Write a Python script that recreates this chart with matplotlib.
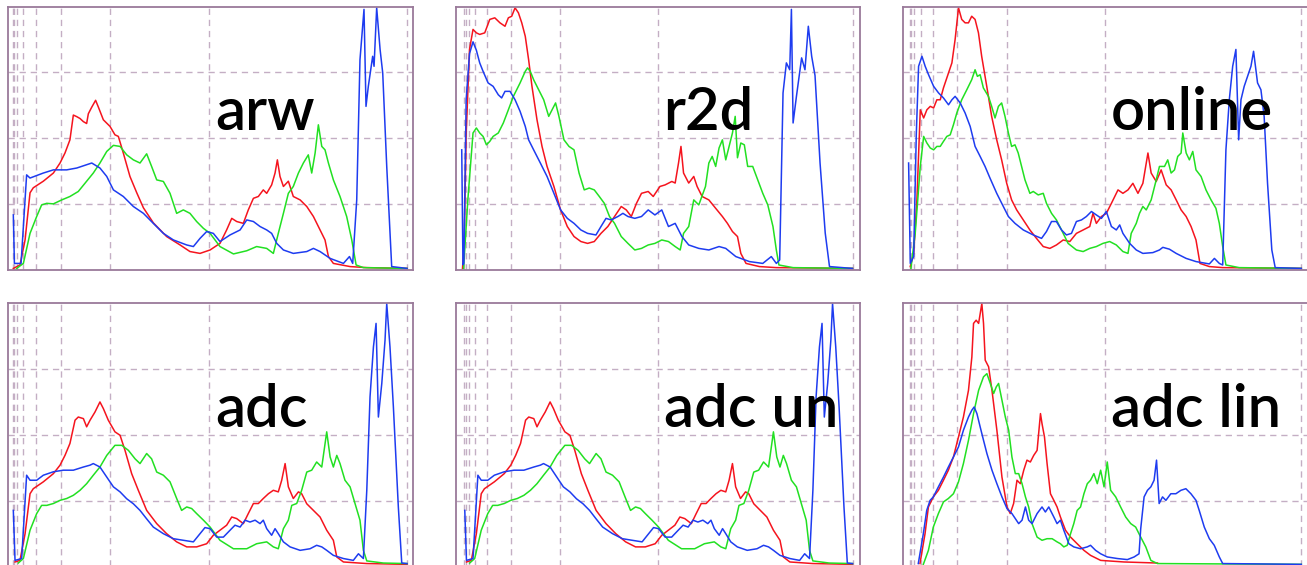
import matplotlib
matplotlib.use("Agg")
import matplotlib.pyplot as plt

# ---------------- data (x: level 0..256, y: % of panel height) ----------------
titles = ["arw", "r2d", "online", "adc", "adc un", "adc lin"]

arw_red_x = [1.5, 5.8, 9.1, 12.3, 14.4, 20.9, 27.4, 31.7, 34.9, 38.1, 40.3, 42.5, 44.6, 46.8, 48.9, 50.0, 52.2, 54.7, 56.5, 59.7, 64.0, 67.2, 69.4, 72.6, 76.9, 81.3, 85.6, 92.0, 100.6, 109.3, 115.7, 122.2, 128.7, 135.1, 139.4, 142.7, 145.9, 150.2, 153.4, 156.7, 159.9, 163.1, 165.3, 168.5, 170.7, 172.2, 173.9, 176.1, 179.3, 182.5, 186.9, 191.2, 195.5, 199.8, 203.0, 205.2, 208.4, 219.2, 230, 256]
arw_red_y = [0.6, 1.9, 11.4, 29.3, 31.2, 33.7, 36.8, 40.6, 44.4, 49.4, 58.8, 58.2, 57.5, 56.3, 55.6, 59.3, 61.8, 64.4, 61.8, 57.0, 54.5, 51.3, 50.7, 44.4, 35.5, 29.3, 23.6, 17.9, 12.7, 9.5, 7.0, 6.3, 7.6, 10.1, 15.2, 19.6, 18.4, 17.7, 22.8, 27.2, 27.9, 30.4, 29.1, 32.3, 36.8, 41.8, 35.5, 31.7, 33.7, 27.9, 26.6, 24.1, 20.3, 15.2, 11.4, 5.1, 2.5, 1.3, 0.9, 0.6]
arw_green_x = [3.7, 8.0, 12.3, 16.6, 19.8, 23.1, 27.4, 32.8, 38.1, 43.5, 47.8, 53.2, 57.5, 61.9, 66.2, 70.5, 74.8, 79.1, 83.4, 87.7, 90.9, 94.2, 98.5, 102.8, 107.1, 111.4, 115.7, 120.0, 124.4, 128.7, 135.1, 143.8, 152.4, 158.8, 165.3, 169.6, 172.8, 176.1, 179.3, 182.5, 185.8, 189.0, 192.2, 194.4, 196.6, 198.7, 200.9, 203.0, 205.2, 208.4, 212.7, 217.0, 220.3, 223.1, 227.8, 256]
arw_green_y = [0.6, 2.5, 13.9, 20.3, 24.7, 25.3, 25.1, 26.6, 27.9, 29.8, 32.9, 36.8, 40.6, 45.0, 47.3, 46.9, 43.7, 41.8, 40.6, 44.1, 39.3, 34.2, 33.6, 29.1, 21.5, 22.8, 21.5, 18.4, 15.8, 13.9, 8.9, 6.1, 7.3, 8.9, 8.2, 6.3, 13.9, 21.5, 29.1, 31.7, 36.8, 40.6, 43.7, 36.8, 44.4, 55.1, 46.9, 45.6, 40.6, 34.2, 27.9, 20.3, 11.4, 1.9, 0.9, 0.6]
arw_blue_x = [1.5, 2.2, 6.5, 10.1, 12.3, 20.9, 27.4, 36.0, 42.5, 52.2, 57.5, 61.9, 66.2, 72.6, 79.1, 85.6, 92.0, 98.5, 105.0, 113.6, 117.9, 122.2, 126.5, 130.8, 135.1, 141.6, 148.1, 152.4, 156.7, 161.0, 165.3, 168.5, 171.8, 176.1, 182.5, 191.2, 195.5, 199.8, 206.3, 214.9, 218.8, 220.9, 223.5, 225.6, 228.2, 229.5, 231.0, 233.8, 234.7, 236.4, 238.6, 240.3, 242.9, 246.1, 256]
arw_blue_y = [20.9, 2.5, 2.5, 36.1, 34.9, 36.8, 38.0, 38.0, 38.7, 40.6, 38.7, 35.5, 30.4, 27.9, 24.1, 21.5, 17.7, 13.9, 11.4, 9.5, 8.9, 12.0, 14.6, 13.9, 10.8, 13.3, 15.2, 19.0, 18.4, 16.5, 15.2, 13.9, 10.1, 7.6, 6.3, 7.0, 8.2, 7.0, 4.4, 2.5, 5.1, 2.5, 26.6, 79.8, 98.9, 62.1, 69.7, 81.1, 77.3, 99.5, 83.7, 74.8, 39.3, 1.3, 0.6]

r2d_red_x = [0, 1.1, 2.4, 4.6, 6.9, 9.1, 11.3, 14.6, 17.9, 21.2, 24.6, 27.9, 30.1, 32.3, 34.5, 36.7, 38.9, 41.2, 43.4, 45.6, 48.9, 52.2, 55.5, 60.0, 64.4, 68.8, 73.2, 77.7, 82.1, 86.5, 90.9, 95.4, 99.8, 104.2, 107.5, 110.8, 114.2, 117.5, 121.9, 125.2, 129.6, 133.0, 137.4, 139.6, 141.8, 143.4, 145.1, 148.5, 151.8, 154.0, 157.3, 161.7, 166.2, 170.6, 173.9, 177.2, 180.5, 182.7, 186.1, 194.9, 206, 256]
r2d_red_y = [0.6, 10.0, 51.3, 83.7, 91.3, 90.0, 89.4, 90.0, 95.1, 95.7, 93.8, 92.5, 95.7, 96.3, 99.5, 97.6, 93.8, 88.7, 79.8, 69.7, 57.0, 46.9, 39.3, 31.7, 22.8, 16.5, 12.7, 10.8, 10.1, 10.8, 13.9, 16.5, 20.3, 24.1, 22.8, 20.3, 25.3, 29.1, 29.8, 27.9, 31.7, 32.3, 33.6, 33.0, 40.6, 46.9, 36.8, 33.0, 35.5, 31.7, 27.9, 26.6, 23.4, 20.3, 17.7, 14.6, 12.7, 6.3, 2.5, 1.3, 0.9, 0.6]
r2d_green_x = [0.7, 3.5, 6.9, 9.1, 11.3, 13.5, 15.7, 17.9, 20.1, 23.5, 26.8, 30.1, 33.4, 37.8, 41.2, 42.7, 44.5, 46.7, 50.0, 53.3, 56.6, 58.8, 61.1, 63.3, 66.6, 69.9, 73.2, 76.5, 79.9, 83.2, 86.5, 89.8, 93.1, 96.5, 99.8, 104.2, 108.6, 113.1, 117.5, 121.9, 126.3, 130.8, 135.2, 139.6, 142.9, 145.1, 148.5, 151.8, 155.1, 159.5, 161.7, 163.9, 166.2, 168.4, 170.6, 172.8, 175.0, 177.2, 179.0, 180.5, 182.7, 185.0, 187.2, 190.5, 193.8, 197.1, 200.4, 203.8, 206.0, 207.7, 217.0, 256]
r2d_green_y = [0.6, 26.6, 52.0, 53.9, 52.0, 50.7, 47.5, 48.8, 50.7, 52.0, 55.8, 60.8, 65.9, 71.0, 75.4, 76.7, 75.4, 72.2, 68.4, 64.6, 58.3, 60.8, 63.4, 58.3, 49.4, 46.9, 45.6, 36.8, 30.4, 31.1, 30.4, 27.9, 25.3, 20.3, 17.7, 12.7, 10.1, 7.6, 8.2, 9.5, 10.1, 11.4, 10.8, 8.9, 7.6, 13.9, 16.5, 26.6, 24.7, 31.7, 40.6, 43.1, 39.3, 46.3, 49.4, 41.8, 46.9, 52.0, 58.3, 42.6, 48.2, 47.5, 39.3, 39.3, 34.2, 29.1, 24.7, 16.5, 7.6, 1.9, 0.9, 0.6]
r2d_blue_x = [-0.5, 0.3, 0.9, 2.4, 4.6, 6.9, 9.1, 11.3, 13.5, 16.8, 20.1, 23.5, 25.7, 27.9, 31.2, 34.5, 37.8, 41.2, 43.4, 46.7, 51.1, 55.5, 60.0, 64.4, 68.8, 73.2, 77.7, 82.1, 87.6, 90.9, 94.2, 97.6, 102.0, 105.3, 108.6, 113.1, 117.5, 121.9, 126.3, 130.8, 135.2, 139.6, 144.0, 148.5, 155.1, 161.7, 168.4, 172.8, 179.4, 188.3, 197.1, 202.7, 206.0, 208.2, 210.4, 212.6, 214.8, 215.9, 217.0, 219.2, 222.6, 224.8, 227.0, 229.2, 231.4, 234.7, 238.1, 240.9, 256]
r2d_blue_y = [45.6, 2.0, 2.5, 64.6, 82.1, 86.6, 83.4, 78.6, 75.4, 71.0, 69.7, 66.5, 65.3, 67.8, 67.8, 64.6, 60.2, 54.5, 49.4, 45.6, 40.6, 35.5, 29.1, 22.8, 19.6, 17.7, 15.2, 13.9, 13.3, 16.5, 19.6, 19.0, 20.3, 21.5, 20.3, 19.6, 20.3, 22.8, 20.9, 22.8, 16.5, 17.7, 12.7, 9.5, 8.2, 7.6, 8.9, 8.2, 5.1, 3.2, 2.5, 5.1, 2.5, 3.8, 67.2, 78.6, 76.0, 98.9, 55.8, 65.9, 80.5, 76.0, 92.5, 81.1, 73.8, 40.6, 14.0, 1.3, 0.6]

online_red_x = [1.3, 3.5, 5.6, 7.8, 10.0, 12.1, 14.3, 16.5, 18.6, 20.8, 22.9, 26.2, 28.4, 30.5, 32.7, 34.8, 37.0, 39.2, 41.3, 43.5, 45.7, 47.8, 51.1, 54.3, 57.6, 60.8, 64.1, 67.3, 70.6, 74.9, 79.2, 83.5, 87.9, 92.2, 96.5, 100.9, 105.2, 109.5, 113.9, 118.2, 120.3, 122.5, 125.8, 129.0, 132.3, 136.6, 139.8, 143.1, 146.3, 149.6, 152.8, 156.1, 158.2, 161.5, 164.7, 168.0, 171.2, 174.5, 177.7, 181.0, 184.2, 187.4, 190.0, 196.1, 204.8, 256]
online_red_y = [1.3, 6.3, 26.6, 60.8, 57.7, 60.8, 62.1, 61.5, 64.6, 64.6, 69.1, 74.8, 78.6, 87.5, 99.5, 95.1, 93.8, 93.8, 96.3, 95.1, 90.0, 81.1, 69.7, 58.3, 49.4, 41.8, 32.9, 26.6, 22.8, 19.0, 15.2, 12.0, 8.9, 8.2, 9.5, 11.4, 10.8, 13.9, 15.2, 16.5, 21.5, 17.7, 20.3, 21.5, 25.3, 30.4, 29.1, 30.4, 32.9, 29.1, 32.9, 44.4, 36.8, 33.6, 38.0, 32.3, 30.4, 26.6, 22.8, 20.3, 16.5, 11.4, 2.5, 1.3, 0.9, 0.6]
online_green_x = [1.7, 4.5, 7.8, 10.0, 12.1, 14.3, 16.5, 18.6, 20.8, 22.9, 25.1, 27.3, 29.4, 31.6, 34.8, 38.1, 41.3, 43.5, 45.0, 46.8, 48.9, 52.2, 54.3, 56.5, 58.7, 60.8, 63.0, 65.2, 67.3, 69.5, 71.6, 73.8, 76.0, 79.2, 81.4, 84.6, 87.9, 90.0, 93.3, 96.5, 99.8, 104.1, 109.5, 113.9, 118.2, 122.5, 126.8, 131.2, 135.5, 139.8, 143.1, 145.2, 148.5, 150.6, 152.8, 155.0, 158.2, 161.5, 163.6, 166.9, 169.0, 171.2, 173.4, 175.5, 177.7, 178.8, 181.0, 183.1, 185.3, 187.4, 190.7, 193.9, 197.2, 200.4, 202.6, 204.8, 206.9, 215.6, 256]
online_green_y = [0.6, 13.9, 39.3, 50.7, 48.2, 46.3, 45.6, 46.9, 46.9, 48.8, 50.7, 51.3, 55.1, 59.6, 64.6, 68.4, 72.2, 76.0, 73.5, 74.1, 69.1, 65.9, 62.1, 57.7, 62.1, 63.4, 58.3, 52.0, 46.9, 47.5, 44.4, 39.3, 34.2, 29.1, 29.8, 28.5, 29.1, 25.3, 21.5, 19.0, 15.2, 10.1, 7.6, 7.0, 8.2, 8.9, 10.1, 10.8, 9.5, 7.0, 6.3, 13.9, 17.7, 21.5, 24.1, 22.8, 26.6, 34.2, 39.3, 39.3, 41.8, 36.8, 38.0, 43.1, 44.4, 52.0, 44.4, 41.8, 45.0, 38.0, 35.5, 30.4, 26.6, 23.4, 17.7, 8.9, 1.9, 0.9, 0.6]
online_blue_x = [0.2, 1.3, 3.5, 5.2, 6.7, 8.9, 11.0, 13.2, 16.5, 19.7, 22.9, 26.2, 28.4, 30.5, 33.8, 37.0, 40.3, 43.5, 46.8, 50.0, 53.2, 57.6, 61.9, 65.2, 69.5, 74.9, 81.4, 86.8, 90.0, 93.3, 96.5, 99.8, 103.0, 106.3, 109.5, 112.8, 116.0, 119.3, 122.5, 125.8, 129.0, 132.3, 135.5, 137.7, 139.8, 144.2, 148.5, 152.8, 159.3, 163.6, 165.8, 170.1, 174.5, 181.0, 187.4, 196.1, 199.4, 202.6, 204.8, 206.9, 209.1, 211.3, 213.4, 215.2, 216.7, 218.8, 221.0, 223.2, 224.9, 227.5, 229.7, 231.8, 234.0, 236.8, 239.0, 256]
online_blue_y = [40.6, 2.5, 5.1, 51.3, 77.3, 81.1, 77.3, 74.1, 69.7, 67.2, 65.3, 62.7, 64.6, 65.9, 63.4, 59.6, 54.5, 46.9, 43.1, 39.3, 34.9, 29.1, 24.1, 20.3, 17.7, 15.2, 13.3, 12.0, 14.6, 18.4, 18.4, 15.2, 13.3, 13.9, 18.4, 19.0, 20.3, 22.2, 20.9, 19.6, 22.2, 16.5, 15.2, 17.1, 13.9, 10.1, 7.6, 6.3, 6.6, 7.6, 8.6, 7.9, 6.3, 4.4, 3.2, 2.3, 4.4, 2.5, 1.9, 45.6, 64.6, 77.3, 83.7, 49.4, 64.6, 69.7, 73.5, 77.3, 83.0, 71.0, 68.4, 58.3, 33.0, 7.6, 0.9, 0.6]

adc_red_x = [2.6, 5.8, 9.1, 12.3, 14.4, 20.9, 27.4, 31.7, 34.9, 38.1, 41.4, 43.5, 46.8, 48.9, 51.1, 54.3, 57.5, 59.7, 62.9, 67.2, 70.5, 73.7, 78.0, 82.3, 87.7, 94.2, 100.6, 107.1, 113.6, 120.0, 126.5, 130.8, 135.1, 139.4, 142.7, 145.9, 150.2, 153.4, 156.7, 159.9, 163.1, 166.4, 169.6, 172.8, 175.0, 177.2, 179.3, 182.5, 185.8, 187.9, 191.2, 195.5, 199.8, 204.1, 208.4, 210.6, 214.9, 230, 256]
adc_red_y = [1.9, 2.5, 12.6, 27.7, 29.6, 32.2, 35.3, 38.5, 42.2, 46.7, 55.5, 56.7, 56.1, 53.0, 55.5, 58.6, 62.4, 59.9, 55.5, 51.1, 49.8, 44.1, 35.3, 29.0, 21.4, 16.4, 12.6, 9.5, 7.6, 7.6, 8.8, 12.0, 13.9, 15.8, 18.9, 18.3, 16.4, 20.2, 24.0, 24.0, 25.9, 27.7, 29.0, 28.4, 32.8, 39.1, 30.3, 25.9, 28.4, 27.7, 23.9, 21.4, 18.9, 13.9, 10.1, 3.8, 1.9, 1.3, 1.0]
adc_green_x = [4.7, 8.0, 12.3, 16.6, 19.8, 23.1, 27.4, 31.7, 36.0, 40.3, 44.6, 48.9, 53.2, 57.5, 61.9, 67.2, 71.6, 75.9, 80.2, 83.4, 87.7, 90.9, 94.2, 98.5, 102.8, 107.1, 110.3, 113.6, 116.8, 120.0, 124.4, 128.7, 135.1, 143.8, 152.4, 158.8, 165.3, 169.6, 172.8, 176.1, 179.3, 181.5, 184.7, 187.9, 191.2, 194.4, 197.6, 200.9, 204.1, 206.3, 208.4, 210.6, 212.7, 215.9, 219.2, 222.4, 225.6, 227.8, 230.0, 240.7, 256]
adc_green_y = [1.5, 3.2, 13.9, 20.2, 23.3, 23.3, 24.0, 25.2, 25.9, 27.1, 29.0, 31.5, 34.7, 37.8, 42.2, 46.0, 46.0, 44.1, 40.9, 39.1, 42.9, 40.9, 35.9, 34.7, 32.2, 25.9, 21.4, 22.7, 22.1, 20.2, 17.7, 15.1, 10.1, 6.9, 6.9, 8.8, 9.5, 7.6, 6.9, 14.5, 17.7, 23.3, 24.0, 29.0, 35.9, 36.6, 39.7, 37.8, 51.1, 41.6, 37.8, 42.2, 39.1, 32.8, 30.3, 24.0, 17.7, 6.3, 2.3, 1.5, 1.3]
adc_blue_x = [1.5, 2.6, 6.9, 10.1, 12.3, 16.6, 20.9, 27.4, 33.8, 40.3, 46.8, 51.1, 53.2, 57.5, 61.9, 66.2, 70.5, 74.8, 79.1, 83.4, 87.7, 92.0, 98.5, 105.0, 111.4, 117.9, 122.2, 125.4, 128.7, 133.0, 137.3, 141.6, 144.8, 148.1, 151.3, 154.5, 157.8, 161.0, 163.1, 165.3, 168.5, 170.7, 172.8, 176.1, 180.4, 186.9, 193.3, 197.6, 200.9, 204.1, 208.4, 214.9, 221.3, 224.6, 227.8, 230.0, 232.1, 234.3, 236.0, 237.5, 239.7, 241.8, 242.9, 245.0, 247.2, 250.4, 252.6, 256]
adc_blue_y = [21.4, 2.5, 3.2, 34.7, 32.8, 32.8, 34.7, 36.0, 36.6, 36.6, 37.8, 38.5, 39.1, 37.8, 34.0, 30.3, 28.4, 25.8, 23.9, 21.4, 18.2, 15.1, 12.6, 10.7, 10.1, 9.5, 12.6, 14.9, 14.5, 11.3, 11.3, 13.9, 15.8, 15.1, 17.7, 17.0, 17.7, 16.4, 17.7, 14.5, 12.0, 14.5, 12.6, 9.5, 7.6, 6.3, 6.9, 8.2, 7.6, 6.3, 4.4, 3.2, 2.5, 5.0, 3.2, 29.0, 64.3, 83.2, 92.1, 56.7, 69.4, 85.8, 99.6, 83.2, 60.5, 22.7, 1.5, 1.3]

# "adc un" reads the same as "adc" in the picture
adcun_red_x, adcun_red_y = list(adc_red_x), list(adc_red_y)
adcun_green_x, adcun_green_y = list(adc_green_x), list(adc_green_y)
adcun_blue_x, adcun_blue_y = list(adc_blue_x), list(adc_blue_y)

adclin_red_x = [7.6, 10.9, 13.1, 16.3, 19.6, 22.9, 26.1, 29.4, 32.7, 35.9, 39.2, 41.4, 42.5, 44.2, 45.8, 47.9, 49.0, 50.1, 52.3, 54.5, 57.7, 61.0, 64.3, 66.4, 68.6, 70.8, 73.0, 75.2, 77.3, 79.5, 81.7, 83.9, 84.9, 86.1, 87.1, 88.7, 90.4, 92.6, 94.8, 96.9, 99.1, 102.4, 105.7, 110.0, 114.4, 118.7, 125.3, 140.5, 162.3]
adclin_red_y = [1.3, 12.6, 22.7, 26.5, 29.0, 32.8, 36.6, 41.6, 49.2, 56.7, 66.8, 79.4, 92.1, 93.3, 92.1, 99.6, 92.1, 78.2, 75.7, 66.8, 51.7, 34.0, 22.7, 20.2, 24.0, 32.8, 31.5, 36.6, 40.4, 39.7, 42.2, 44.1, 50.4, 58.0, 54.2, 49.2, 39.1, 27.7, 25.2, 22.7, 18.9, 13.9, 11.3, 8.8, 6.3, 4.4, 2.5, 1.9, 1.5]
adclin_green_x = [9.8, 13.1, 16.3, 19.6, 22.9, 26.1, 29.4, 32.7, 35.9, 39.2, 42.5, 45.8, 49.0, 51.2, 53.4, 55.6, 57.3, 58.8, 61.0, 63.2, 65.4, 67.5, 69.7, 71.9, 74.1, 76.3, 78.4, 80.6, 83.9, 87.1, 90.4, 93.7, 96.9, 99.1, 101.3, 103.5, 105.7, 107.8, 110.0, 112.2, 114.4, 116.6, 118.7, 120.9, 123.1, 125.3, 127.5, 129.6, 131.8, 135.1, 138.3, 141.6, 144.9, 148.1, 151.4, 154.7, 158.0, 162.3, 256]
adclin_green_y = [1.0, 6.3, 15.1, 20.2, 24.6, 25.9, 27.7, 32.2, 39.1, 47.9, 58.0, 66.8, 71.9, 73.1, 69.4, 65.6, 68.1, 69.4, 63.1, 56.7, 51.7, 41.6, 35.3, 35.3, 31.5, 26.5, 22.7, 16.4, 11.3, 10.1, 10.7, 10.7, 9.5, 8.8, 7.6, 8.2, 12.6, 16.4, 21.4, 22.7, 27.7, 31.5, 32.8, 35.3, 31.5, 36.6, 30.3, 39.7, 29.0, 26.5, 22.7, 18.9, 16.4, 15.1, 11.3, 7.6, 2.5, 1.3, 1.0]
adclin_blue_x = [6.5, 9.8, 12.0, 14.2, 16.3, 19.6, 22.9, 26.1, 29.4, 32.7, 35.9, 39.2, 41.4, 42.9, 44.7, 46.8, 49.0, 51.2, 54.5, 57.7, 61.0, 64.3, 67.5, 71.9, 74.1, 76.3, 78.4, 80.6, 83.9, 87.1, 89.3, 91.5, 94.8, 96.9, 99.1, 101.3, 104.6, 107.8, 112.2, 116.6, 118.7, 122.0, 125.3, 129.6, 136.2, 142.7, 147.1, 150.3, 151.4, 153.6, 155.8, 158.0, 160.1, 161.7, 163.4, 165.6, 167.8, 171.0, 174.3, 177.6, 180.8, 184.1, 187.4, 189.5, 192.8, 196.1, 199.3, 202.6, 204.8, 256]
adclin_blue_y = [1.3, 12.6, 21.4, 25.2, 26.5, 30.3, 34.0, 37.8, 41.6, 45.4, 51.7, 56.7, 59.3, 60.5, 58.0, 53.0, 47.9, 42.9, 36.6, 31.5, 26.5, 22.1, 20.2, 16.4, 17.7, 22.7, 17.7, 16.4, 20.2, 22.7, 20.8, 22.7, 18.9, 16.4, 17.7, 13.9, 8.8, 7.6, 6.9, 7.6, 8.2, 6.3, 5.0, 3.8, 3.2, 2.8, 3.8, 5.0, 14.5, 26.5, 29.0, 30.3, 32.8, 40.4, 24.0, 26.5, 25.2, 27.7, 27.7, 29.0, 29.6, 27.7, 25.2, 21.4, 15.1, 10.7, 8.2, 3.8, 1.3, 1.0]

gridline_levels = [256, 128, 64, 32, 16, 8, 4, 2, 1]
hgrid_levels = [25, 50, 75]

panels = [
    (titles[0], (arw_red_x, arw_red_y), (arw_green_x, arw_green_y), (arw_blue_x, arw_blue_y)),
    (titles[1], (r2d_red_x, r2d_red_y), (r2d_green_x, r2d_green_y), (r2d_blue_x, r2d_blue_y)),
    (titles[2], (online_red_x, online_red_y), (online_green_x, online_green_y), (online_blue_x, online_blue_y)),
    (titles[3], (adc_red_x, adc_red_y), (adc_green_x, adc_green_y), (adc_blue_x, adc_blue_y)),
    (titles[4], (adcun_red_x, adcun_red_y), (adcun_green_x, adcun_green_y), (adcun_blue_x, adcun_blue_y)),
    (titles[5], (adclin_red_x, adclin_red_y), (adclin_green_x, adclin_green_y), (adclin_blue_x, adclin_blue_y)),
]

# ---------------- layout / style ----------------
W, H = 1307, 565
fig = plt.figure(figsize=(W / 100, H / 100), dpi=100)
fig.patch.set_facecolor("white")

col_px = [(8, 413), (456, 860), (903, 1308)]
col_x0 = [11.0, 462.5, 908.3]      # pixel of level 0
col_scale = [396 / 256, 390 / 256, 393 / 256]
row_px = [(6.5, 270.0), (302.5, 567.0)]

COLORS = {"r": "#f5141e", "g": "#22e022", "b": "#1e3cf0"}
GRID = "#c4aec4"
SPINE = "#9a7a9a"

for i, (title, red, green, blue) in enumerate(panels):
    r, c = divmod(i, 3)
    x0, x1 = col_px[c]
    y0, y1 = row_px[r]
    ax = fig.add_axes([x0 / W, 1 - y1 / H, (x1 - x0) / W, (y1 - y0) / H])
    lo = (x0 - col_x0[c]) / col_scale[c]
    hi = (x1 - col_x0[c]) / col_scale[c]
    ax.set_xlim(lo, hi)
    ax.set_ylim(0, 100)
    for v in gridline_levels:
        ax.axvline(v, color=GRID, lw=1.0, dashes=(4.5, 3.5), zorder=0)
    for h in hgrid_levels:
        ax.axhline(h, color=GRID, lw=1.0, dashes=(4.5, 3.5), zorder=0)
    for (xs, ys), col in ((red, COLORS["r"]), (green, COLORS["g"]), (blue, COLORS["b"])):
        ax.plot(xs, ys, color=col, lw=1.1, zorder=2, solid_joinstyle="round")
    ax.text(132, 53, title, fontsize=43, family=["Lato", "DejaVu Sans"], weight="semibold",
            ha="left", va="baseline", color="black", zorder=3)
    ax.set_xticks([])
    ax.set_yticks([])
    for s in ax.spines.values():
        s.set_color(SPINE)
        s.set_linewidth(1.3)

fig.savefig("out.png", dpi=100, facecolor="white")
